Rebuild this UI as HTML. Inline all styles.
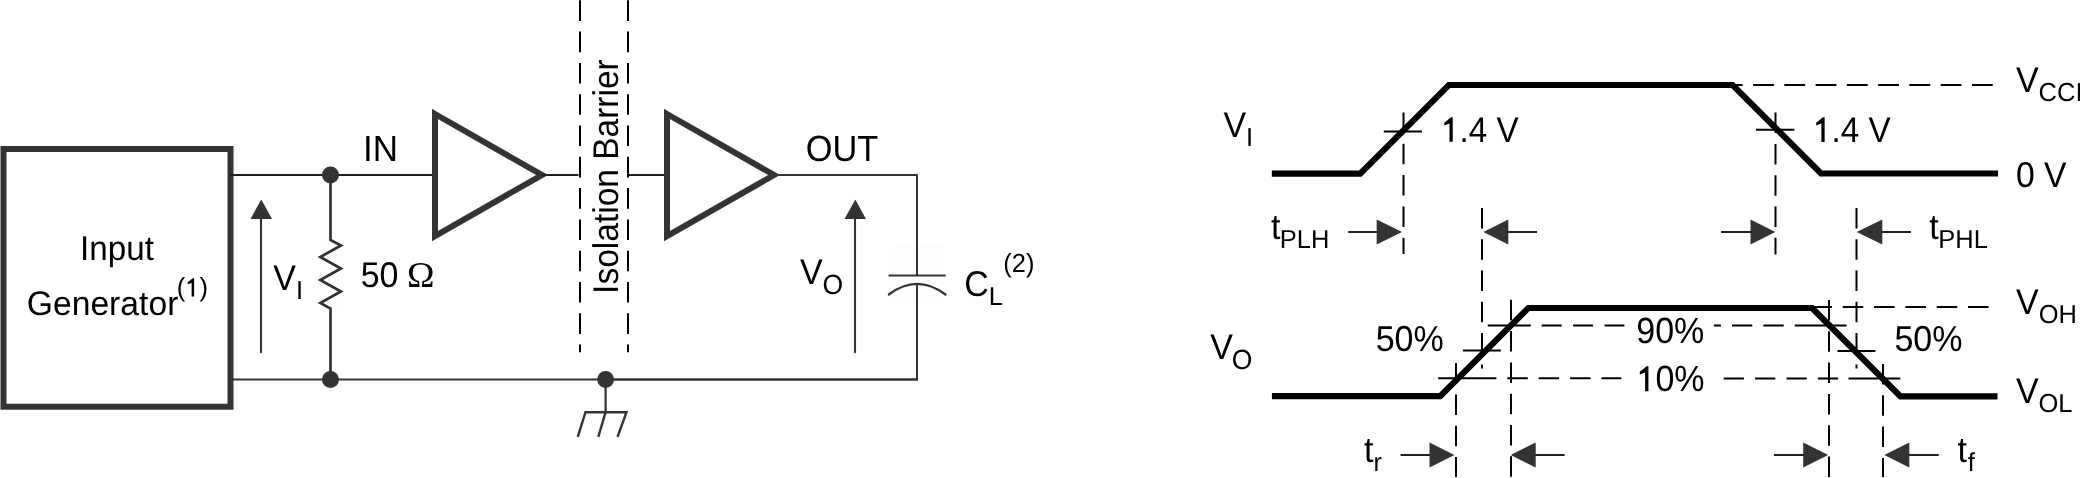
<!DOCTYPE html>
<html><head><meta charset="utf-8"><style>
html,body{margin:0;padding:0;background:#fff;overflow:hidden;}
svg{display:block;will-change:transform;}
text{font-family:"Liberation Sans",sans-serif;fill:#000;text-rendering:geometricPrecision;}
</style></head><body>
<svg width="2080" height="478" viewBox="0 0 2080 478">
<rect width="2080" height="478" fill="#fff"/>
<rect x="320" y="240" width="22.5" height="68.5" fill="#fdfdfd"/>
<rect x="890" y="245" width="54" height="60" fill="#fdfdfd"/>
<rect x="3.5" y="149" width="227" height="257.7" fill="none" stroke="#343233" stroke-width="6"/>
<line x1="230" y1="175" x2="436" y2="175" stroke="#201e1f" stroke-width="2" />
<line x1="230" y1="379.5" x2="918" y2="379.5" stroke="#343233" stroke-width="2" />
<circle cx="330.5" cy="175" r="8.5" fill="#343233"/>
<circle cx="330.5" cy="379.5" r="8.5" fill="#343233"/>
<circle cx="605.6" cy="379.5" r="8.4" fill="#343233"/>
<polyline points="330.5,175 330.5,240 340.9,245.5 320.3,257 340.9,268.5 320.3,280 340.9,291.5 320.3,303 330.5,308.5 330.5,379.5" fill="none" stroke="#343233" stroke-width="2.7" stroke-linejoin="miter"/>
<line x1="261" y1="216" x2="261" y2="352.2" stroke="#343233" stroke-width="2.1" stroke-linecap="round"/>
<polygon points="261.3,199.4 250.5,218.9 272,218.9" fill="#343233" stroke="none" stroke-width="0" />
<polygon points="435,114 542,175 435,236" fill="none" stroke="#343233" stroke-width="6" stroke-linejoin="miter" stroke-miterlimit="10"/>
<line x1="542" y1="175" x2="578.5" y2="175" stroke="#201e1f" stroke-width="2" />
<line x1="580" y1="0.3" x2="580" y2="352.3" stroke="#000" stroke-width="2" stroke-dasharray="20.6 10.7" stroke-dashoffset="0"/>
<line x1="628" y1="0.3" x2="628" y2="352.3" stroke="#000" stroke-width="2" stroke-dasharray="20.6 10.7" stroke-dashoffset="0"/>
<line x1="629" y1="175" x2="668" y2="175" stroke="#201e1f" stroke-width="2" />
<polygon points="667,114 774,175 667,236" fill="none" stroke="#343233" stroke-width="6" stroke-linejoin="miter" stroke-miterlimit="10"/>
<polyline points="774,175 917,175 917,275.5" fill="none" stroke="#343233" stroke-width="2" stroke-linejoin="round"/>
<line x1="889.5" y1="275.5" x2="944.8" y2="275.5" stroke="#343233" stroke-width="2.2" stroke-linecap="round"/>
<path d="M888.8,294.5 Q917,273.3 945.5,294.5" fill="none" stroke="#343233" stroke-width="2.2" stroke-linecap="round"/>
<polyline points="917,283.9 917,379.5 605,379.5" fill="none" stroke="#343233" stroke-width="2" stroke-linejoin="round"/>
<line x1="855" y1="216" x2="855" y2="352.2" stroke="#343233" stroke-width="2.1" stroke-linecap="round"/>
<polygon points="855.3,199.4 844.5,218.9 866,218.9" fill="#343233" stroke="none" stroke-width="0" />
<line x1="605.6" y1="379.5" x2="605.6" y2="412.2" stroke="#343233" stroke-width="2.2" />
<polyline points="577.8,436.8 585.5,412.2 626.5,412.2 617.5,436.8" fill="none" stroke="#343233" stroke-width="2.4" />
<line x1="605.6" y1="412.2" x2="598.3" y2="436.8" stroke="#343233" stroke-width="2.4" />
<text transform="translate(80.05 259.9) scale(1 1.035)" font-size="33.2" >Input</text>
<text transform="translate(26.71 314.9) scale(1 1.01)" font-size="33.7" >Generator</text>
<g transform="translate(176.72 296.4) scale(1 1.03)"><text x="0.00" font-size="25.5">(</text><path transform="translate(8.49 0) scale(0.01245 -0.01245)" d="M715,0L715,1409L608,1409L195,1095L195,938L515,1054L515,0Z"/><text x="22.67" font-size="25.5">)</text></g>
<text transform="translate(273.26 290) scale(1 1.05)" font-size="34.0" >V</text>
<text transform="translate(295.95 298.9) scale(1 1.02)" font-size="25.5" >I</text>
<text transform="translate(360.64 286.5) scale(1 1.05)" font-size="34.0" >50</text>
<text transform="translate(406.9 286.6) scale(1 0.98)" font-size="37" style="font-family:Liberation Serif,serif">Ω</text>
<text transform="translate(362.98 160.9) scale(1 1.035)" font-size="35" >IN</text>
<text transform="translate(805.68 160.8) scale(1 1.06)" font-size="34.4" >OUT</text>
<text transform="translate(800.06 284) scale(1 1.05)" font-size="34.0" >V</text>
<text transform="translate(822.55 293.5) scale(1 1.05)" font-size="26.5" >O</text>
<text transform="translate(964.27 296.2) scale(1 1.05)" font-size="34.0" >C</text>
<text transform="translate(988.81 304.7) scale(1 1.02)" font-size="25.5" >L</text>
<text transform="translate(1003.22 272.2) scale(1 1.03)" font-size="25.5" >(2)</text>
<text transform="translate(618.2 293.882) rotate(-90) scale(1 1.065)" font-size="33.5">Isolation Barrier</text>
<polyline points="1271.8,173.7 1360.2,173.7 1448.8,85 1732.6,85 1821,173.5 1998,173.5" fill="none" stroke="#000" stroke-width="6.2" stroke-linejoin="miter"/>
<line x1="1721.8" y1="85" x2="1992.7" y2="85" stroke="#000" stroke-width="2" stroke-dasharray="20.8 10.47" stroke-dashoffset="0"/>
<line x1="1383.8" y1="131.5" x2="1422" y2="131.5" stroke="#000" stroke-width="2" />
<line x1="1755.9" y1="129.8" x2="1794.4" y2="129.8" stroke="#000" stroke-width="2" />
<line x1="1403.5" y1="112.5" x2="1403.5" y2="254.1" stroke="#000" stroke-width="2" stroke-dasharray="20.5 10.8" stroke-dashoffset="0"/>
<line x1="1775.5" y1="112.6" x2="1775.5" y2="254.4" stroke="#000" stroke-width="2" stroke-dasharray="20.5 10.8" stroke-dashoffset="0"/>
<line x1="1482" y1="207.9" x2="1482" y2="368.6" stroke="#000" stroke-width="2" stroke-dasharray="20.5 10.8" stroke-dashoffset="0"/>
<line x1="1856.5" y1="207.9" x2="1856.5" y2="368.6" stroke="#000" stroke-width="2" stroke-dasharray="20.5 10.8" stroke-dashoffset="0"/>
<line x1="1348.2" y1="232" x2="1377.7" y2="232" stroke="#221f20" stroke-width="2" />
<polygon points="1402,232 1376.7,219.5 1376.7,244.5" fill="#343233" stroke="none" stroke-width="0" />
<line x1="1507.3" y1="232" x2="1537" y2="232" stroke="#221f20" stroke-width="2" />
<polygon points="1483.4,232 1508.3,219.5 1508.3,244.5" fill="#343233" stroke="none" stroke-width="0" />
<line x1="1721.1" y1="232" x2="1751.5" y2="232" stroke="#221f20" stroke-width="2" />
<polygon points="1775.3,232 1750.5,219.5 1750.5,244.5" fill="#343233" stroke="none" stroke-width="0" />
<line x1="1881.3" y1="232" x2="1910.9" y2="232" stroke="#221f20" stroke-width="2" />
<polygon points="1856.7,232 1882.3,219.5 1882.3,244.5" fill="#343233" stroke="none" stroke-width="0" />
<polyline points="1271.9,396.2 1440.2,396.2 1528.3,308 1812.1,308 1900.5,396.4 1997.5,396.4" fill="none" stroke="#000" stroke-width="6.2" stroke-linejoin="miter"/>
<line x1="1811.5" y1="307" x2="1988.6" y2="307" stroke="#000" stroke-width="2" stroke-dasharray="20.5 10.8" stroke-dashoffset="0"/>
<line x1="1456" y1="363.1" x2="1456" y2="477" stroke="#000" stroke-width="2" stroke-dasharray="20.5 10.8" stroke-dashoffset="0"/>
<line x1="1511" y1="299.8" x2="1511" y2="477" stroke="#000" stroke-width="2" stroke-dasharray="20.5 10.8" stroke-dashoffset="0"/>
<line x1="1829" y1="300" x2="1829" y2="477" stroke="#000" stroke-width="2" stroke-dasharray="20.5 10.8" stroke-dashoffset="0"/>
<line x1="1883" y1="364" x2="1883" y2="477" stroke="#000" stroke-width="2" stroke-dasharray="20.5 10.8" stroke-dashoffset="0"/>
<line x1="1487.7" y1="325.5" x2="1530.8" y2="325.5" stroke="#000" stroke-width="2" />
<line x1="1541.7" y1="325.5" x2="1624.4" y2="325.5" stroke="#000" stroke-width="2" stroke-dasharray="20 11.4" stroke-dashoffset="0"/>
<line x1="1713.9" y1="325.5" x2="1794.8" y2="325.5" stroke="#000" stroke-width="2" stroke-dasharray="20.3 11.1" stroke-dashoffset="13.3"/>
<line x1="1794.8" y1="325.5" x2="1846.5" y2="325.5" stroke="#000" stroke-width="2" />
<line x1="1462.9" y1="350.6" x2="1500.8" y2="350.6" stroke="#000" stroke-width="2" />
<line x1="1837.5" y1="350.9" x2="1875.4" y2="350.9" stroke="#000" stroke-width="2" />
<line x1="1438.2" y1="378.2" x2="1476" y2="378.2" stroke="#000" stroke-width="2" />
<line x1="1475.9" y1="378.2" x2="1621.3" y2="378.2" stroke="#000" stroke-width="2" stroke-dasharray="20.5 10.9" stroke-dashoffset="0"/>
<line x1="1723.7" y1="378.4" x2="1848.5" y2="378.4" stroke="#000" stroke-width="2" stroke-dasharray="20.2 11.2" stroke-dashoffset="0"/>
<line x1="1848.5" y1="378.5" x2="1900.3" y2="378.5" stroke="#000" stroke-width="2" />
<line x1="1400.6" y1="455" x2="1430.5" y2="455" stroke="#221f20" stroke-width="2" />
<polygon points="1454.4,455 1429.5,442.5 1429.5,467.5" fill="#343233" stroke="none" stroke-width="0" />
<line x1="1534.7" y1="455" x2="1564.6" y2="455" stroke="#221f20" stroke-width="2" />
<polygon points="1510.7,455 1535.7,442.5 1535.7,467.5" fill="#343233" stroke="none" stroke-width="0" />
<line x1="1773.9" y1="455" x2="1804.2" y2="455" stroke="#221f20" stroke-width="2" />
<polygon points="1828.2,455 1803.2,442.5 1803.2,467.5" fill="#343233" stroke="none" stroke-width="0" />
<line x1="1908.3" y1="455" x2="1938.7" y2="455" stroke="#221f20" stroke-width="2" />
<polygon points="1884.3,455 1909.3,442.5 1909.3,467.5" fill="#343233" stroke="none" stroke-width="0" />
<text transform="translate(1223.46 137) scale(1 1.05)" font-size="34.0" >V</text>
<text transform="translate(1245.95 146) scale(1 1.02)" font-size="25.5" >I</text>
<g transform="translate(1441.15 141.8) scale(1 1.075)"><path transform="translate(0.00 0) scale(0.01621 -0.01621)" d="M715,0L715,1409L608,1409L195,1095L195,938L515,1054L515,0Z"/><text x="18.46" font-size="33.2">.4 V</text></g>
<g transform="translate(1813.05 141.9) scale(1 1.075)"><path transform="translate(0.00 0) scale(0.01621 -0.01621)" d="M715,0L715,1409L608,1409L195,1095L195,938L515,1054L515,0Z"/><text x="18.46" font-size="33.2">.4 V</text></g>
<text transform="translate(2016.06 91.7) scale(1 1.05)" font-size="34.0" >V</text>
<text transform="translate(2038.6 101.4) scale(1 1.02)" font-size="25.5" >CCI</text>
<text transform="translate(2015.99 186.6) scale(1 1.06)" font-size="33.7" >0 V</text>
<text transform="translate(1270.89 239) scale(1 1.05)" font-size="34.0" >t</text>
<text transform="translate(1279.71 247.8) scale(1 1.02)" font-size="25.5" >PLH</text>
<text transform="translate(1929.29 239) scale(1 1.05)" font-size="34.0" >t</text>
<text transform="translate(1938.21 248.2) scale(1 1.02)" font-size="25.5" >PHL</text>
<text transform="translate(1210.26 359.3) scale(1 1.05)" font-size="34.0" >V</text>
<text transform="translate(1231.65 368.6) scale(1 1.05)" font-size="26.5" >O</text>
<text transform="translate(2016.06 313.9) scale(1 1.05)" font-size="34.0" >V</text>
<text transform="translate(2038.7 323.3) scale(1 1.02)" font-size="25.5" >OH</text>
<text transform="translate(2015.96 402.6) scale(1 1.05)" font-size="34.0" >V</text>
<text transform="translate(2038.5 412.1) scale(1 1.02)" font-size="25.5" >OL</text>
<text transform="translate(1375.64 350.8) scale(1 1.06)" font-size="34.0" >50%</text>
<text transform="translate(1894.44 350.7) scale(1 1.06)" font-size="34.0" >50%</text>
<text transform="translate(1636.3 342.6) scale(1 1.07)" font-size="34.0" >90%</text>
<g transform="translate(1636.57 391.2) scale(1 1.07)"><path transform="translate(0.00 0) scale(0.01660 -0.01660)" d="M715,0L715,1409L608,1409L195,1095L195,938L515,1054L515,0Z"/><text x="18.90" font-size="34.0">0%</text></g>
<text transform="translate(1363.89 462) scale(1 1.05)" font-size="34.0" >t</text>
<text transform="translate(1373.52 471) scale(1 1.02)" font-size="25.5" >r</text>
<text transform="translate(1957.49 462) scale(1 1.05)" font-size="34.0" >t</text>
<text transform="translate(1967.64 471) scale(1 1.02)" font-size="25.5" >f</text>
</svg>
</body></html>
